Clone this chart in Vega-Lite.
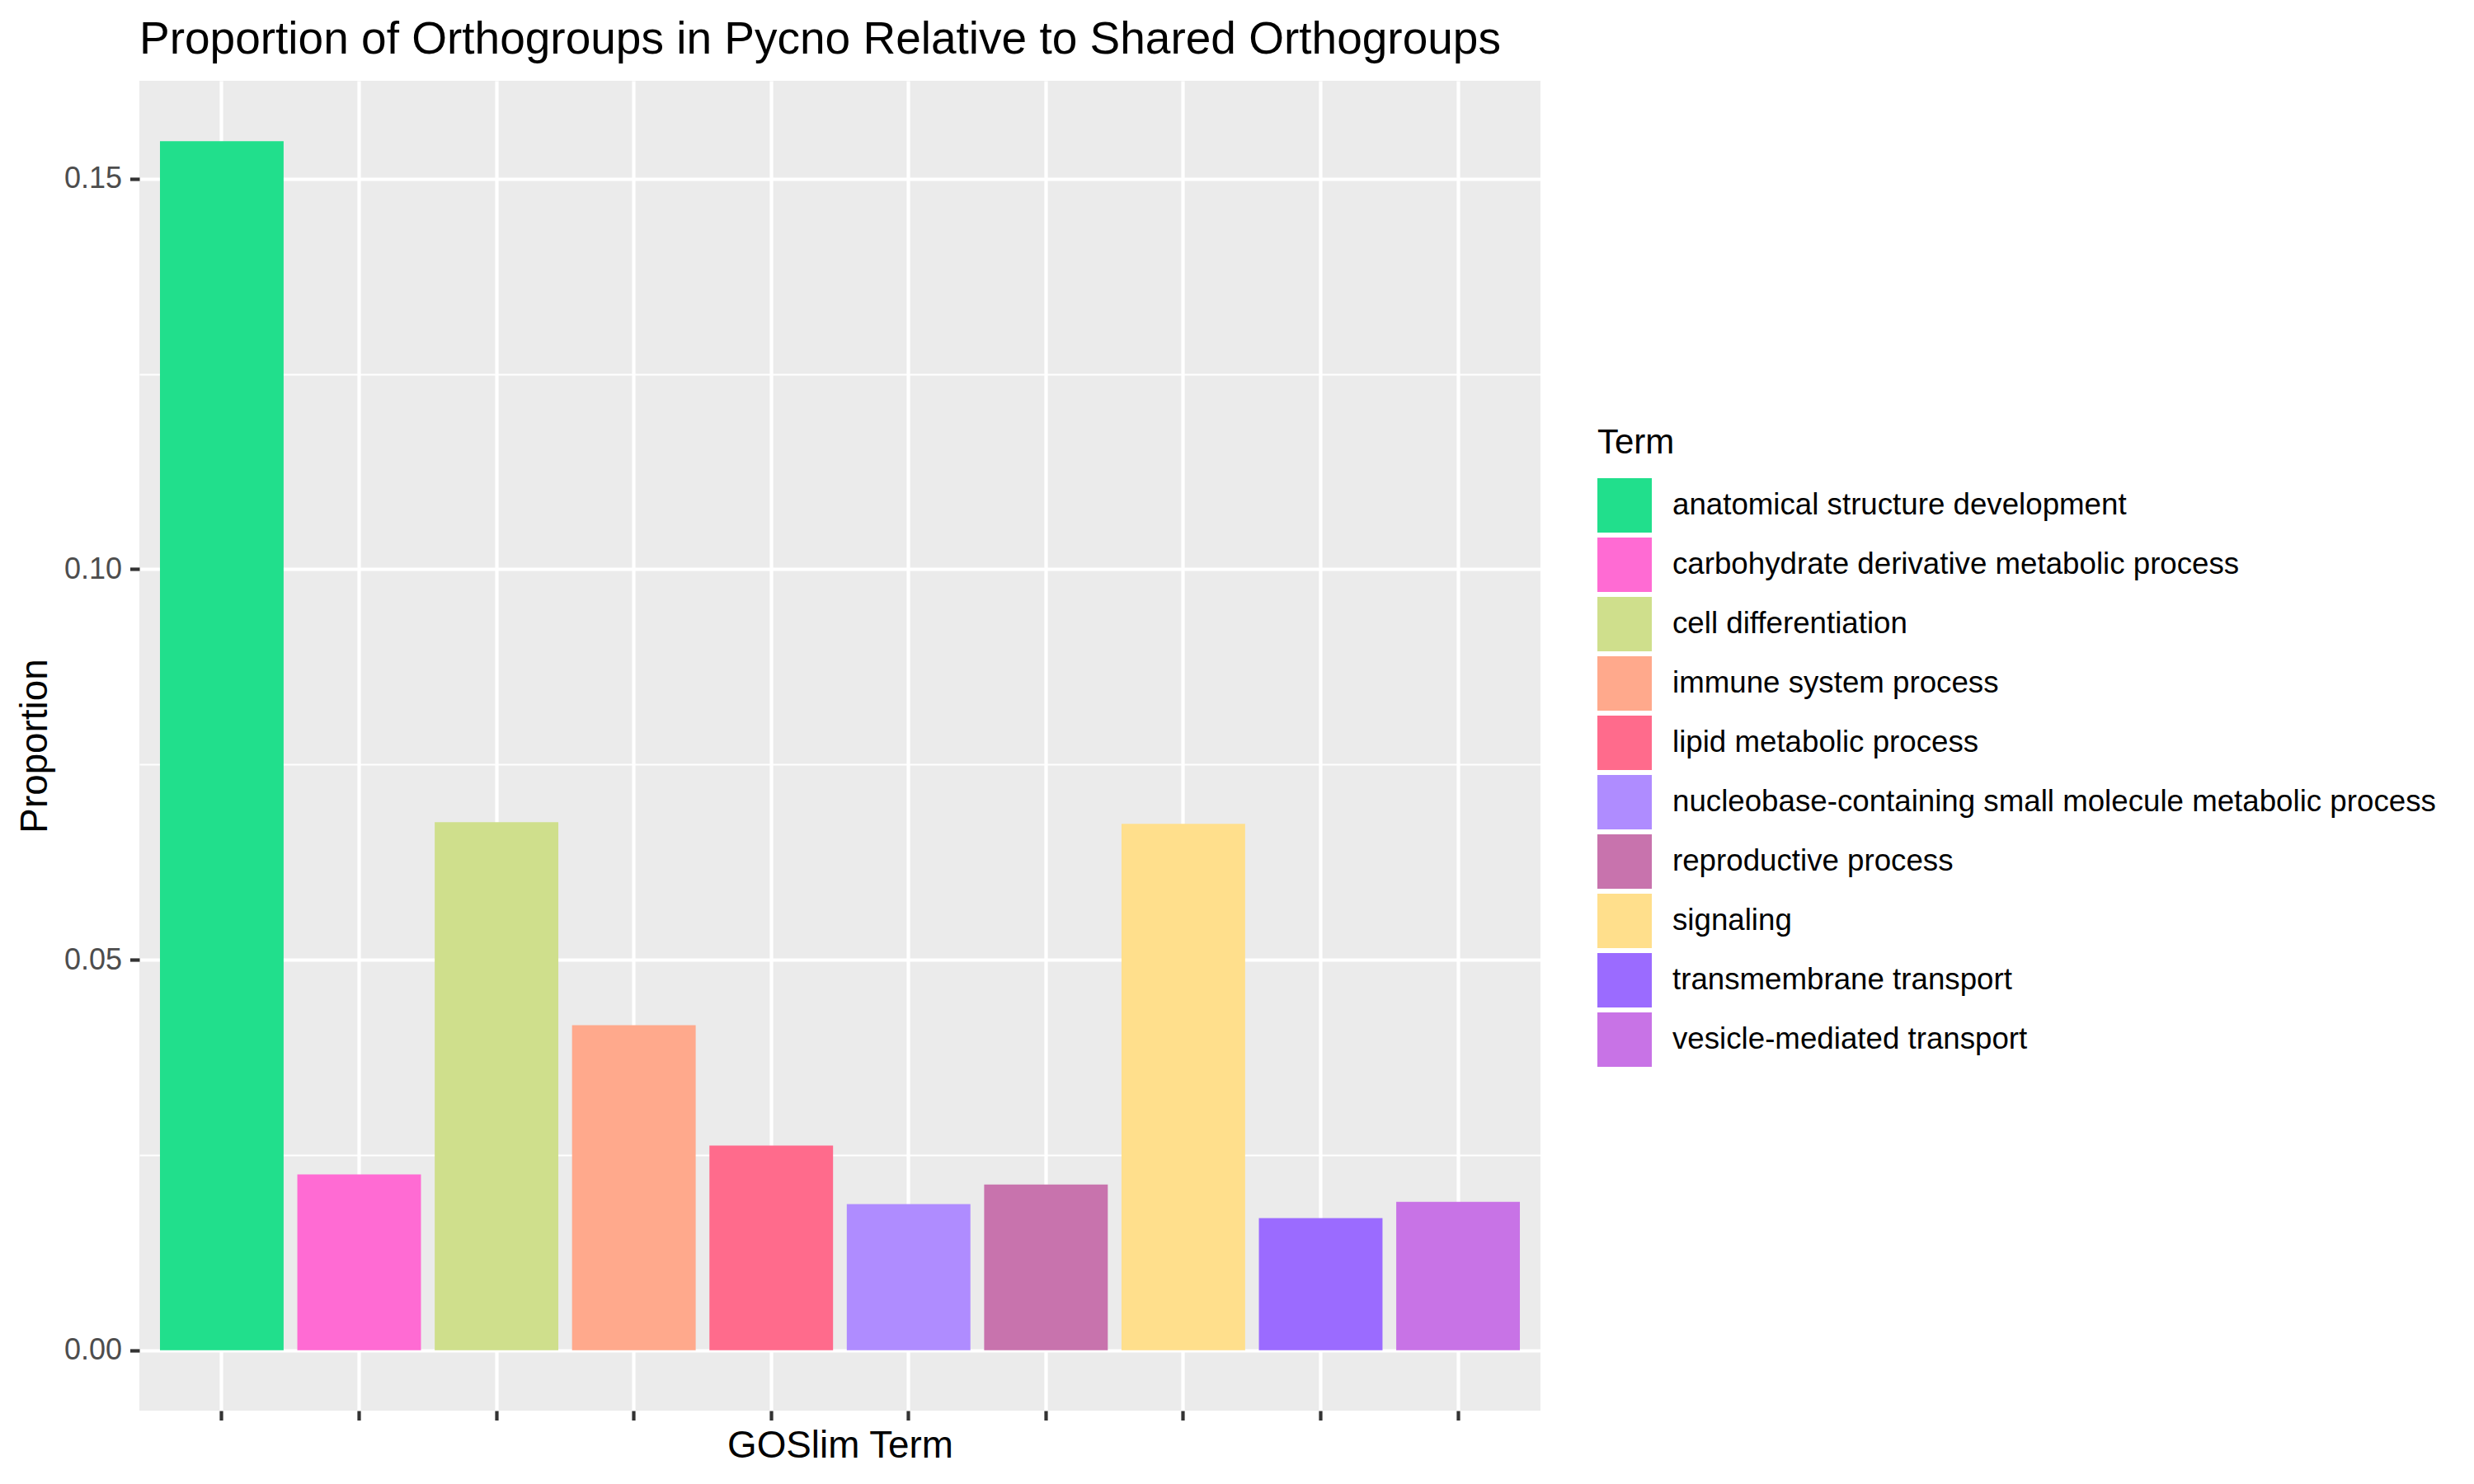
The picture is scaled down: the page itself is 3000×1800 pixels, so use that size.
{
  "$schema": "https://vega.github.io/schema/vega-lite/v6.json",
  "autosize": {"type": "none"},
  "width": 1699,
  "height": 1613,
  "padding": {"left": 169, "top": 98, "right": 1132, "bottom": 89},
  "background": "white",
  "title": {
    "text": "Proportion of Orthogroups in Pycno Relative to Shared Orthogroups",
    "anchor": "start",
    "frame": "group",
    "font": "Liberation Sans",
    "fontSize": 55,
    "fontWeight": "normal",
    "color": "#000000",
    "baseline": "alphabetic",
    "offset": 35,
    "dy": 57
  },
  "config": {
    "view": {"fill": "#EBEBEB", "stroke": null},
    "font": "Liberation Sans"
  },
  "data": {
    "values": [
      {"Term": "anatomical structure development", "Proportion": 0.1548},
      {"Term": "carbohydrate derivative metabolic process", "Proportion": 0.0225},
      {"Term": "cell differentiation", "Proportion": 0.0676},
      {"Term": "immune system process", "Proportion": 0.0416},
      {"Term": "lipid metabolic process", "Proportion": 0.0262},
      {"Term": "nucleobase-containing small molecule metabolic process", "Proportion": 0.0187},
      {"Term": "reproductive process", "Proportion": 0.0212},
      {"Term": "signaling", "Proportion": 0.0674},
      {"Term": "transmembrane transport", "Proportion": 0.0169},
      {"Term": "vesicle-mediated transport", "Proportion": 0.019}
    ]
  },
  "mark": {"type": "bar"},
  "encoding": {
    "x": {
      "field": "Term",
      "type": "nominal",
      "sort": "ascending",
      "scale": {"paddingInner": 0.1, "paddingOuter": 0.15},
      "axis": {
        "title": "GOSlim Term",
        "titleFont": "Liberation Sans",
        "titleFontSize": 45.8,
        "titleFontWeight": "normal",
        "titleColor": "#000000",
        "titleBaseline": "alphabetic",
        "titleY": 56,
        "labels": false,
        "domain": false,
        "ticks": true,
        "tickColor": "#333333",
        "tickSize": 11.5,
        "tickWidth": 4.2,
        "bandPosition": 0.5,
        "grid": true,
        "gridColor": "#FFFFFF",
        "gridWidth": 4.2
      }
    },
    "y": {
      "field": "Proportion",
      "type": "quantitative",
      "scale": {"domain": [-0.00774, 0.16254], "nice": false, "zero": false},
      "axis": {
        "title": "Proportion",
        "titleFont": "Liberation Sans",
        "titleFontSize": 45.8,
        "titleFontWeight": "normal",
        "titleColor": "#000000",
        "titleAngle": -90,
        "titleBaseline": "alphabetic",
        "titleX": -113,
        "titleY": 806.5,
        "values": [0, 0.025, 0.05, 0.075, 0.1, 0.125, 0.15],
        "labelExpr": "round(datum.value * 1000) % 50 === 0 ? format(datum.value, '.2f') : ''",
        "labelFont": "Liberation Sans",
        "labelFontSize": 36,
        "labelColor": "#4D4D4D",
        "labelPadding": 10,
        "domain": false,
        "tickColor": "#333333",
        "tickSize": 11.5,
        "tickWidth": 4.2,
        "tickOpacity": {"condition": {"test": "round(datum.value * 1000) % 50 === 0", "value": 1}, "value": 0},
        "grid": true,
        "gridColor": "#FFFFFF",
        "gridWidth": {"condition": {"test": "round(datum.value * 1000) % 50 === 0", "value": 4.2}, "value": 2.1}
      }
    },
    "y2": {"datum": 0},
    "color": {
      "field": "Term",
      "type": "nominal",
      "scale": {
        "domain": [
          "anatomical structure development",
          "carbohydrate derivative metabolic process",
          "cell differentiation",
          "immune system process",
          "lipid metabolic process",
          "nucleobase-containing small molecule metabolic process",
          "reproductive process",
          "signaling",
          "transmembrane transport",
          "vesicle-mediated transport"
        ],
        "range": ["#21DF8C", "#FF6BD3", "#CFDF8C", "#FFA98C", "#FF6B8C", "#AF8CFF", "#C873AD", "#FFDF8C", "#9B6BFF", "#C873E6"]
      },
      "legend": {
        "title": "Term",
        "orient": "none",
        "legendX": 1768,
        "legendY": 419,
        "padding": 0,
        "titleFont": "Liberation Sans",
        "titleFontSize": 42,
        "titleFontWeight": "normal",
        "titleColor": "#000000",
        "titlePadding": 21,
        "symbolType": "square",
        "symbolSize": 4356,
        "symbolStrokeWidth": 0,
        "symbolOpacity": 1,
        "rowPadding": 6,
        "labelFont": "Liberation Sans",
        "labelFontSize": 36.7,
        "labelColor": "#000000",
        "labelOffset": 25,
        "labelLimit": 1000
      }
    }
  }
}
